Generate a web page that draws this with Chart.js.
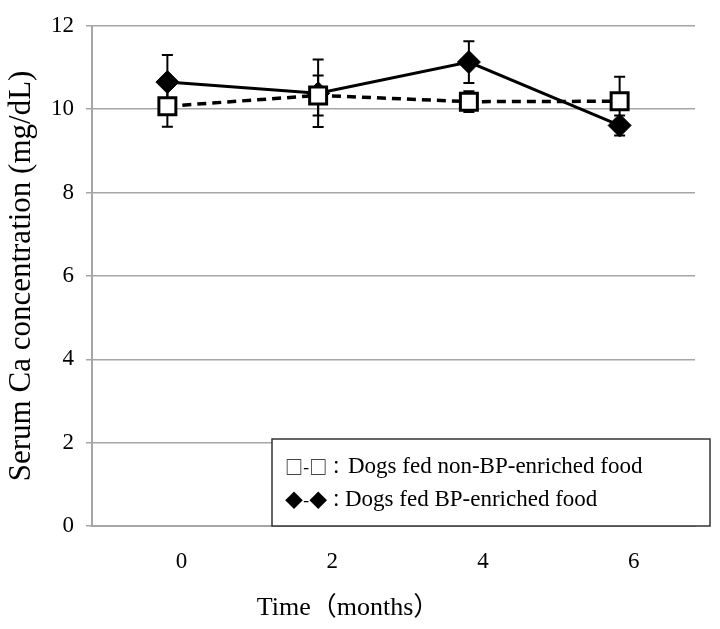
<!DOCTYPE html>
<html>
<head>
<meta charset="utf-8">
<script src="https://cdn.jsdelivr.net/npm/chart.js@4.4.1/dist/chart.umd.min.js"></script>
<style>
  html, body { margin: 0; padding: 0; background: #fff; }
  #wrap { width: 720px; height: 629px; position: relative; }
</style>
</head>
<body>
<div id="wrap"><canvas id="c"></canvas></div>
<script>
// ---- data ----
const months = ['0', '2', '4', '6'];
const nonBP = [10.07, 10.33, 10.18, 10.19];
const nonBPErr = [0.49, 0.48, 0.25, 0.59];
const bp = [10.65, 10.38, 11.13, 9.61];
const bpErr = [0.65, 0.81, 0.50, 0.24];
const yTicks = [0, 2, 4, 6, 8, 10, 12];
const seriesNames = ['Dogs fed non-BP-enriched food', 'Dogs fed BP-enriched food'];
const legendMarks = ['\u25A1-\u25A1\uFF1A', '\u25C6-\u25C6\uFF1A'];
const yTitle = 'Serum Ca concentration (mg/dL)';
const xTitle = 'Time\uFF08months\uFF09';

const SERIF = "'Liberation Serif', 'Times New Roman', serif";
const errs = [nonBPErr, bpErr];

const errorBars = {
  id: 'errorBars',
  beforeDatasetsDraw(chart) {
    const ctx = chart.ctx;
    const y = chart.scales.y;
    ctx.save();
    ctx.strokeStyle = '#000';
    ctx.lineWidth = 2;
    chart.data.datasets.forEach((ds, i) => {
      const meta = chart.getDatasetMeta(i);
      meta.data.forEach((pt, j) => {
        const v = ds.data[j], e = errs[i][j];
        const x = pt.x;
        const yt = y.getPixelForValue(v + e);
        const yb = y.getPixelForValue(v - e);
        ctx.beginPath();
        ctx.moveTo(x, yt); ctx.lineTo(x, yb);
        ctx.moveTo(x - 5.5, yt); ctx.lineTo(x + 5.5, yt);
        ctx.moveTo(x - 5.5, yb); ctx.lineTo(x + 5.5, yb);
        ctx.stroke();
      });
    });
    ctx.restore();
  }
};

const customText = {
  id: 'customText',
  afterDraw(chart) {
    const ctx = chart.ctx;
    const ca = chart.chartArea;
    ctx.save();
    // legend box
    const x0 = ca.left + 180, x1 = ca.right + 15, y0 = ca.bottom - 87, y1 = ca.bottom;
    ctx.fillStyle = '#fff';
    ctx.fillRect(x0, y0, x1 - x0, y1 - y0);
    ctx.strokeStyle = '#333';
    ctx.lineWidth = 1.5;
    ctx.strokeRect(x0, y0, x1 - x0, y1 - y0);
    ctx.fillStyle = '#000';
    ctx.textBaseline = 'middle';
    ctx.textAlign = 'left';
    const rows = [y0 + 28, y0 + 61];
    const textX = [x0 + 76, x0 + 73];
    rows.forEach((ry, k) => {
      ctx.font = "18px 'Noto Sans CJK JP', 'DejaVu Sans', sans-serif";
      ctx.fillText(legendMarks[k], x0 + 13, ry);
      ctx.font = "23px " + SERIF;
      ctx.fillText(seriesNames[k], textX[k], ry);
    });
    // x title
    ctx.font = "26px 'Liberation Serif', 'Noto Sans CJK JP', serif";
    ctx.textAlign = 'center';
    ctx.fillText(xTitle, 348, 608);
    ctx.restore();
  }
};

new Chart(document.getElementById('c'), {
  type: 'line',
  data: {
    labels: months,
    datasets: [
      {
        label: seriesNames[0],
        data: nonBP,
        borderColor: '#000',
        borderWidth: 3.5,
        borderDash: [9, 6],
        pointStyle: 'rect',
        pointRadius: 12,
        pointBackgroundColor: '#fff',
        pointBorderColor: '#000',
        pointBorderWidth: 3,
        tension: 0
      },
      {
        label: seriesNames[1],
        data: bp,
        borderColor: '#000',
        borderWidth: 3,
        pointStyle: 'rectRot',
        pointRadius: 11.5,
        pointBackgroundColor: '#000',
        pointBorderColor: '#000',
        pointBorderWidth: 1,
        tension: 0
      }
    ]
  },
  options: {
    responsive: true,
    maintainAspectRatio: false,
    animation: false,
    events: [],
    layout: { padding: { top: 15, right: 25, left: 0, bottom: 0 } },
    plugins: { legend: { display: false }, tooltip: { enabled: false } },
    scales: {
      x: {
        offset: true,
        grid: { display: false },
        border: { display: true, color: '#a6a6a6', width: 2 },
        ticks: { color: '#000', font: { family: SERIF, size: 23 }, padding: 14, labelOffset: 14 },
        afterFit(s) { s.height = 103; }
      },
      y: {
        min: 0,
        max: 12,
        afterBuildTicks(s) { s.ticks = yTicks.map(v => ({ value: v })); },
        ticks: { color: '#000', font: { family: SERIF, size: 23 }, padding: 12 },
        grid: { color: '#a6a6a6', lineWidth: 1.5, tickLength: 6 },
        border: { color: '#a6a6a6', width: 2 },
        title: { display: true, text: yTitle, color: '#000', font: { family: SERIF, size: 31 }, padding: { top: 3, bottom: 0 } },
        afterFit(s) { s.width = 92; }
      }
    }
  },
  plugins: [errorBars, customText]
});
</script>
</body>
</html>
